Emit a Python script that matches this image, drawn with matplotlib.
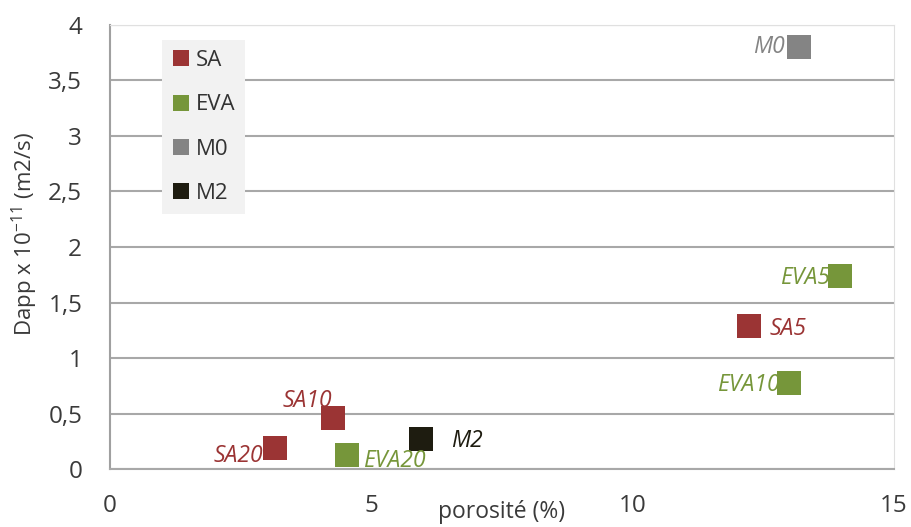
import matplotlib
matplotlib.use("Agg")
import matplotlib.pyplot as plt
from matplotlib.lines import Line2D

plt.rcParams['font.family'] = ['Open Sans', 'DejaVu Sans']
plt.rcParams['mathtext.fontset'] = 'custom'
plt.rcParams['mathtext.rm'] = 'Open Sans'
plt.rcParams['axes.unicode_minus'] = False

# series: name -> (porosity %, Dapp x 1e-11)
series = ['SA', 'EVA', 'M0', 'M2']
colors = {'SA': '#9b3434', 'EVA': '#76963a', 'M0': '#848484', 'M2': '#1e1c10'}

labels = ['M0', 'EVA5', 'SA5', 'EVA10', 'SA10', 'SA20', 'EVA20', 'M2']
groups = ['M0', 'EVA', 'SA', 'EVA', 'SA', 'SA', 'EVA', 'M2']
porosity = [13.18, 13.97, 12.23, 13.0, 4.26, 3.16, 4.53, 5.96]
dapp = [3.80, 1.735, 1.285, 0.772, 0.457, 0.19, 0.126, 0.273]

# label offsets in pixels and alignment
offsets = {
    'M0': (-14, 0, 'right', 'center'),
    'EVA5': (-10, -2, 'right', 'center'),
    'SA5': (20, -3, 'left', 'center'),
    'EVA10': (-10, -2, 'right', 'center'),
    'SA10': (-25, 17, 'center', 'center'),
    'SA20': (-12, -8, 'right', 'center'),
    'EVA20': (16, -6, 'left', 'center'),
    'M2': (30, -2, 'left', 'center'),
}

fig = plt.figure(figsize=(9.11, 5.27), dpi=100)
ax = fig.add_axes([0.1207, 0.110, 0.8606, 0.8426])

for x, y, g in zip(porosity, dapp, groups):
    ax.scatter(x, y, marker='s', s=290, color=colors[g], zorder=3, linewidths=0)

for lab, x, y, g in zip(labels, porosity, dapp, groups):
    dx, dy, ha, va = offsets[lab]
    ax.annotate(lab, (x, y), xytext=(dx, dy), textcoords='offset pixels',
                ha=ha, va=va, fontsize=16.5, style='italic', color=colors[g], zorder=4)

ax.set_xlim(0, 15)
ax.set_ylim(0, 4)
ax.set_xticks([0, 5, 10, 15])
ax.set_yticks([0, 0.5, 1, 1.5, 2, 2.5, 3, 3.5, 4])
ax.set_yticklabels(['0', '0,5', '1', '1,5', '2', '2,5', '3', '3,5', '4'])
ax.tick_params(axis='both', length=0, labelsize=17.5, colors='#3a3a3a')
ax.tick_params(axis='y', pad=20)
ax.tick_params(axis='x', pad=18)

ax.yaxis.grid(True, color='#a8a8a8', linewidth=1.5)
ax.set_axisbelow(True)
ax.spines['left'].set_color('#a0a0a0')
ax.spines['bottom'].set_color('#a8a8a8')
ax.spines['left'].set_linewidth(1.5)
ax.spines['bottom'].set_linewidth(1.5)
ax.spines['top'].set_color('#e0e0e0')
ax.spines['right'].set_color('#e0e0e0')

ax.set_xlabel('porosité (%)', fontsize=16.5, color='#3a3a3a', va='top')
ax.xaxis.set_label_coords(0.5, -0.07)
ax.set_ylabel('Dapp x 10$^{\\mathregular{-11}}$ (m2/s)', fontsize=16, color='#3a3a3a', va='center')
ax.yaxis.set_label_coords(-0.108, 0.53)

handles = [Line2D([], [], marker='s', linestyle='none', markersize=12,
                  markerfacecolor=colors[s], markeredgewidth=0) for s in series]
leg = ax.legend(handles, series, loc='upper left', bbox_to_anchor=(0.067, 0.966),
                frameon=True, fontsize=16, labelspacing=1.05, handlelength=0.8,
                handletextpad=0.25, borderpad=0.45, borderaxespad=0, fancybox=False)
leg.get_frame().set_facecolor('#f2f2f2')
leg.get_frame().set_edgecolor('none')
leg.get_frame().set_alpha(1)
for t in leg.get_texts():
    t.set_color('#333333')

fig.savefig('out.png', dpi=100)
